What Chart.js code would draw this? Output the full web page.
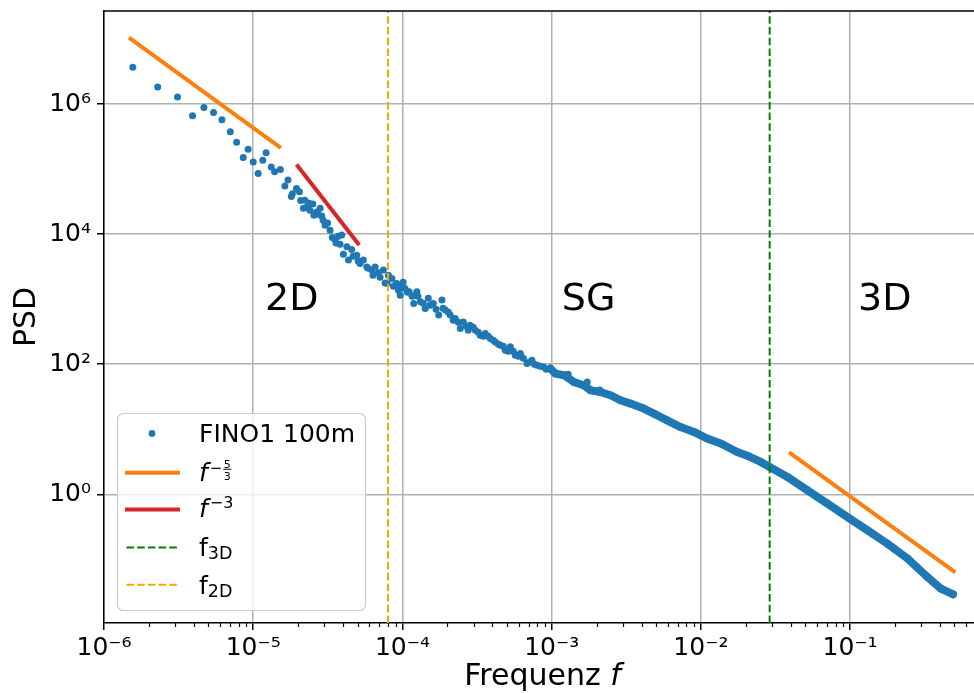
<!DOCTYPE html>
<html>
<head>
<meta charset="utf-8">
<script src="https://cdn.jsdelivr.net/npm/chart.js@4.4.0/dist/chart.umd.min.js"></script>
<style>
    html, body { margin: 0; padding: 0; background: #fff; overflow: hidden; }
    canvas { display: block; }
</style>
</head>
<body>
<!-- a few px wider than the window: Chart.js keeps a small gap on the right, this pushes it off-screen -->
<canvas id="psdChart" width="979" height="693"></canvas>
<script>
// FINO1 100m spectrum, scattered low-frequency part
const scatterF = [
    1.56e-6, 2.29e-6, 3.11e-6, 3.92e-6, 4.67e-6, 5.42e-6, 6.17e-6, 7.02e-6, 7.74e-6, 8.57e-6,
    9.25e-6, 1.0e-5, 1.08e-5, 1.16e-5, 1.22e-5, 1.32e-5, 1.39e-5, 1.52e-5, 1.63e-5, 1.71e-5,
    1.80e-5, 1.83e-5, 1.95e-5, 2.04e-5, 2.08e-5, 2.17e-5, 2.28e-5, 2.40e-5, 2.51e-5, 2.55e-5,
    2.66e-5, 2.81e-5, 2.88e-5, 3.03e-5, 3.15e-5, 3.39e-5, 3.53e-5, 3.72e-5, 3.92e-5, 4.02e-5,
    4.24e-5, 4.35e-5, 4.57e-5, 4.94e-5, 5.2e-5, 5.47e-5, 5.77e-5, 6.24e-5, 6.56e-5, 6.9e-5,
    7.45e-5, 7.65e-5, 8.05e-5, 8.5e-5, 8.7e-5, 9.16e-5, 9.4e-5, 9.66e-5, 9.9e-5, 1.04e-4,
    1.11e-4, 1.19e-4, 1.22e-4, 1.25e-4, 1.32e-4, 1.42e-4, 1.49e-4, 1.61e-4, 1.75e-4, 1.84e-4,
    1.94e-4, 2.09e-4, 2.26e-4, 2.44e-4, 2.56e-4, 2.84e-4, 3.08e-4, 3.32e-4, 3.59e-4, 3.88e-4,
    4.19e-4, 4.53e-4, 4.89e-4, 5.28e-4, 5.7e-4, 6.17e-4, 6.84e-4, 7.38e-4, 7.98e-4, 8.83e-4,
    1.73e-3, 1.29e-3, 2.1e-3,
    2.22e-5, 2.37e-5, 2.72e-5, 2.94e-5, 3.27e-5, 3.59e-5, 3.82e-5, 4.67e-5, 5.05e-5, 5.89e-5,
    6.35e-5, 7.08e-5, 7.89e-5, 8.93e-5,
    1.01e-4, 1.08e-4, 1.16e-4, 1.27e-4, 1.38e-4, 1.53e-4, 1.68e-4, 1.87e-4, 2.03e-4, 2.19e-4,
    2.37e-4, 2.68e-4, 2.76e-4, 2.98e-4, 3.22e-4, 3.48e-4, 3.76e-4, 4.06e-4, 4.39e-4, 4.74e-4,
    5.12e-4, 5.53e-4, 5.98e-4, 6.46e-4, 7.08e-4, 7.66e-4, 8.39e-4, 9.2e-4
];
const scatterPSD = [
    3.67e6, 1.83e6, 1.29e6, 6.6e5, 8.9e5, 7.45e5, 5.73e5, 3.75e5, 2.6e5, 1.51e5,
    2.03e5, 1.29e5, 8.6e4, 1.37e5, 1.78e5, 1.08e5, 9.1e4, 9.9e4, 5.5e4, 6.8e4,
    3.8e4, 4.2e4, 5.05e4, 4.5e4, 3.3e4, 2.5e4, 2.6e4, 2.34e4, 2.9e4, 1.96e4,
    2.2e4, 2.5e4, 1.9e4, 1.37e4, 1.49e4, 8.9e3, 8.3e3, 9.3e3, 9.7e3, 4.9e3,
    6.4e3, 4.0e3, 5.8e3, 4.75e3, 3.54e3, 4.0e3, 3.14e3, 2.8e3, 3.14e3, 2.54e3,
    2.8e3, 1.78e3, 2.34e3, 2.08e3, 1.58e3, 1.75e3, 1.37e3, 1.15e3, 1.55e3, 1.46e3,
    1.3e3, 860, 1150, 1300, 910, 720, 1030, 860, 570, 970,
    680, 570, 505, 354, 448, 398, 333, 279, 297, 248,
    220, 196, 164, 185, 137, 146, 103, 115, 96.6, 90.8,
    53.4, 70, 40,
    3.33e4, 3.0e4, 2.03e4, 1.64e4, 1.15e4, 7.3e3, 7.0e3, 4.59e3, 3.85e3, 3.0e3,
    2.34e3, 2.18e3, 1.76e3, 1.64e3,
    1830, 1280, 1110, 1110, 867, 809, 702, 727, 631, 475,
    443, 384, 333, 371, 311, 270, 270, 234, 203, 189,
    158, 158, 133, 124, 107, 100, 93.2, 83.8
];

// dense high-frequency part (points lie edge to edge)
const bandF = [
    9.8e-4, 1.06e-3, 1.21e-3, 1.41e-3, 1.65e-3, 1.82e-3, 2.12e-3, 2.48e-3, 2.89e-3, 3.37e-3,
    4.14e-3, 4.84e-3, 5.94e-3, 7.31e-3, 8.98e-3, 1.10e-2, 1.36e-2, 1.75e-2, 2.09e-2, 2.52e-2,
    2.89e-2, 3.8e-2, 5.18e-2, 7.05e-2, 9.95e-2, 0.131, 0.178, 0.243, 0.33, 0.406,
    0.49
];
const bandPSD = [
    85.9, 71.9, 67.7, 53.4, 47, 39.8, 37.5, 33.3, 27.9, 24.8,
    20.8, 17.4, 13.7, 10.8, 9.1, 7.2, 6.03, 4.48, 3.84, 3.14,
    2.63, 1.85, 1.15, 0.72, 0.423, 0.279, 0.174, 0.1026, 0.0534, 0.0354,
    0.029
];

// reference slopes
const slope53LowF = [1.47e-6, 1.53e-5];
const slope53LowPSD = [1.05e7, 2.13e5];
const slope3F = [1.95e-5, 5.13e-5];
const slope3PSD = [1.18e5, 6.8e3];
const slope53HighF = [0.039, 0.507];
const slope53HighPSD = [4.4, 0.063];

// transition frequencies
const f2D = 8e-5;
const f3D = 0.0289;

// axes
const xMin = 1e-6, xMax = 0.687;
const yMin = 0.0105, yMax = 2.7e7;
const xTicks = [1e-6, 1e-5, 1e-4, 1e-3, 1e-2, 1e-1];
const yTicks = [1, 1e2, 1e4, 1e6];

// region labels
const regionLabels = ['2D', 'SG', '3D'];
const regionF = [1.2e-5, 1.17e-3, 0.113];
const regionPSD = [680, 680, 680];

const BLUE = '#1f77b4', ORANGE = '#ff7f0e', RED = '#d62728';
const FONT = 'DejaVu Sans';

const pts = (xs, ys) => xs.map((x, i) => ({ x, y: ys[i] }));
const sup = { '-': '⁻', '0': '⁰', '1': '¹', '2': '²', '3': '³', '4': '⁴', '5': '⁵', '6': '⁶', '7': '⁷', '8': '⁸', '9': '⁹' };
const tenPow = v => '10' + String(Math.round(Math.log10(v))).split('').map(c => sup[c]).join('');

// minor ticks, top spine, region labels, axis titles
const decorPlugin = {
    id: 'decor',
    afterDraw(chart) {
        const { ctx, chartArea: a } = chart;
        const xs = chart.scales.x;
        ctx.save();
        ctx.strokeStyle = '#000';
        ctx.lineWidth = 1.2;
        for (let e = -6; e <= 0; e++) {
            for (let m = 2; m <= 9; m++) {
                const v = m * Math.pow(10, e);
                if (v < xMin || v > xMax) continue;
                const px = Math.round(xs.getPixelForValue(v)) + 0.5;
                ctx.beginPath();
                ctx.moveTo(px, a.bottom);
                ctx.lineTo(px, a.bottom + 4);
                ctx.stroke();
            }
        }
        ctx.lineWidth = 1.5;
        ctx.beginPath();
        ctx.moveTo(a.left, a.top);
        ctx.lineTo(a.right, a.top);
        ctx.stroke();

        ctx.fillStyle = '#000';
        ctx.font = '38px "' + FONT + '"';
        ctx.textAlign = 'left';
        ctx.textBaseline = 'alphabetic';
        regionLabels.forEach((t, i) => {
            ctx.fillText(t, xs.getPixelForValue(regionF[i]), chart.scales.y.getPixelForValue(regionPSD[i]));
        });

        // x title: "Frequenz f"
        ctx.font = '30px "' + FONT + '"';
        const w1 = ctx.measureText('Frequenz ').width;
        ctx.font = 'italic 30px "' + FONT + '"';
        const w2 = ctx.measureText('f').width;
        const cx = (a.left + a.right) / 2 + 3;
        let x = cx - (w1 + w2) / 2;
        ctx.font = '30px "' + FONT + '"';
        ctx.fillText('Frequenz ', x, 685);
        ctx.font = 'italic 30px "' + FONT + '"';
        ctx.fillText('f', x + w1, 685);

        // y title
        ctx.translate(35, (a.top + a.bottom) / 2);
        ctx.rotate(-Math.PI / 2);
        ctx.textAlign = 'center';
        ctx.font = '30px "' + FONT + '"';
        ctx.fillText('PSD', 0, 0);
        ctx.restore();
    }
};

// matplotlib style legend, lower left
const legendPlugin = {
    id: 'mplLegend',
    afterDraw(chart) {
        const { ctx, chartArea: a } = chart;
        const w = 248, h = 197;
        const x0 = a.left + 13, y0 = a.bottom - 13 - h;
        ctx.save();
        ctx.beginPath();
        ctx.roundRect(x0 + 0.5, y0 + 0.5, w, h, 6);
        ctx.fillStyle = 'rgba(255,255,255,0.8)';
        ctx.fill();
        ctx.strokeStyle = '#cccccc';
        ctx.lineWidth = 1.2;
        ctx.stroke();

        const rows = [20.4, 59.7, 96.4, 134.4, 171.7].map(r => y0 + r);
        const tx = x0 + 82;
        const hx1 = x0 + 8, hx2 = x0 + 63;

        const handle = (y, color, width, dash) => {
            ctx.beginPath();
            ctx.setLineDash(dash);
            ctx.strokeStyle = color;
            ctx.lineWidth = width;
            ctx.moveTo(hx1 + (dash.length ? 1.5 : 0), y);
            ctx.lineTo(hx2 - (dash.length ? 3 : 0), y);
            ctx.stroke();
            ctx.setLineDash([]);
        };

        ctx.fillStyle = '#000';
        ctx.textAlign = 'left';
        ctx.textBaseline = 'alphabetic';

        // FINO1 100m
        ctx.beginPath();
        ctx.fillStyle = BLUE;
        ctx.arc(x0 + 35, rows[0], 3.4, 0, Math.PI * 2);
        ctx.fill();
        ctx.fillStyle = '#000';
        ctx.font = '25px "' + FONT + '"';
        ctx.fillText('FINO1 100m', tx, rows[0] + 9);

        // f^(-5/3)
        handle(rows[1], ORANGE, 4, []);
        ctx.font = 'italic 25px "' + FONT + '"';
        ctx.fillText('f', tx, rows[1] + 8);
        let sx = tx + ctx.measureText('f').width + 2;
        ctx.font = '15px "' + FONT + '"';
        ctx.fillText('\u2212', sx, rows[1] + 0.5);
        sx += ctx.measureText('\u2212').width + 1;
        ctx.font = '11px "' + FONT + '"';
        ctx.fillText('5', sx + 0.5, rows[1] - 5);
        ctx.fillText('3', sx + 0.5, rows[1] + 7);
        ctx.fillRect(sx, rows[1] - 4, 8, 1);

        // f^-3
        handle(rows[2], RED, 4, []);
        ctx.font = 'italic 25px "' + FONT + '"';
        ctx.fillText('f', tx, rows[2] + 8);
        sx = tx + ctx.measureText('f').width + 2;
        ctx.font = '16px "' + FONT + '"';
        ctx.fillText('\u22123', sx, rows[2] - 1);

        // f_3D, f_2D
        [['3D', 'green', rows[3]], ['2D', 'orange', rows[4]]].forEach(([sub, color, y]) => {
            handle(y, color, 2, [7.5, 3.2]);
            ctx.fillStyle = '#000';
            ctx.font = '25px "' + FONT + '"';
            ctx.fillText('f', tx, y + 9);
            const fx = tx + ctx.measureText('f').width;
            ctx.font = '17.5px "' + FONT + '"';
            ctx.fillText(sub, fx, y + 12);
        });
        ctx.restore();
    }
};

document.addEventListener('DOMContentLoaded', () => {
    const ctx = document.getElementById('psdChart').getContext('2d');

    new Chart(ctx, {
        type: 'scatter',
        data: {
            datasets: [
                { data: pts(scatterF, scatterPSD), backgroundColor: BLUE, pointRadius: 3.5, borderWidth: 0, showLine: false, order: 5 },
                {
                    data: pts(bandF, bandPSD), backgroundColor: BLUE, borderColor: BLUE, borderWidth: 8,
                    borderCapStyle: 'round', borderJoinStyle: 'round', pointRadius: 3.8, pointBorderWidth: 0, showLine: true, order: 4
                },
                { data: pts(slope53LowF, slope53LowPSD), borderColor: ORANGE, borderWidth: 4, pointRadius: 0, showLine: true, order: 2 },
                { data: pts(slope3F, slope3PSD), borderColor: RED, borderWidth: 4, pointRadius: 0, showLine: true, order: 2 },
                { data: pts(slope53HighF, slope53HighPSD), borderColor: ORANGE, borderWidth: 4, pointRadius: 0, showLine: true, order: 2 },
                { data: [{ x: f3D, y: yMin }, { x: f3D, y: yMax }], borderColor: 'green', borderWidth: 2, borderDash: [7.5, 3.2], pointRadius: 0, showLine: true, order: 1 },
                { data: [{ x: f2D, y: yMin }, { x: f2D, y: yMax }], borderColor: 'orange', borderWidth: 2, borderDash: [7.5, 3.2], pointRadius: 0, showLine: true, order: 1 }
            ]
        },
        options: {
            responsive: false,
            animation: false,
            devicePixelRatio: 1,
            layout: { padding: { top: 11, right: 0, bottom: 0, left: 0 } },
            plugins: { legend: false, tooltip: { enabled: false } },
            scales: {
                x: {
                    type: 'logarithmic',
                    min: xMin,
                    max: xMax,
                    afterBuildTicks: s => { s.ticks = xTicks.map(v => ({ value: v })); },
                    afterFit: s => { s.height = 70; s.paddingLeft = 0; s.paddingRight = 0; },
                    ticks: {
                        callback: v => tenPow(v),
                        font: { family: FONT, size: 25 },
                        color: '#000',
                        padding: 3,
                        maxRotation: 0,
                        autoSkip: false
                    },
                    grid: { color: '#b0b0b0', lineWidth: 1.5, tickColor: '#000', tickLength: 7, tickWidth: 1.5 },
                    border: { display: true, color: '#000', width: 1.5 }
                },
                y: {
                    type: 'logarithmic',
                    min: yMin,
                    max: yMax,
                    afterBuildTicks: s => { s.ticks = yTicks.map(v => ({ value: v })); },
                    afterFit: s => { s.width = 104; s.paddingTop = 0; s.paddingBottom = 0; },
                    ticks: {
                        callback: v => tenPow(v),
                        font: { family: FONT, size: 25 },
                        color: '#000',
                        padding: 6,
                        autoSkip: false
                    },
                    grid: { color: '#b0b0b0', lineWidth: 1.5, tickColor: '#000', tickLength: 7, tickWidth: 1.5 },
                    border: { display: true, color: '#000', width: 1.5 }
                }
            }
        },
        plugins: [decorPlugin, legendPlugin]
    });
});
</script>
</body>
</html>
